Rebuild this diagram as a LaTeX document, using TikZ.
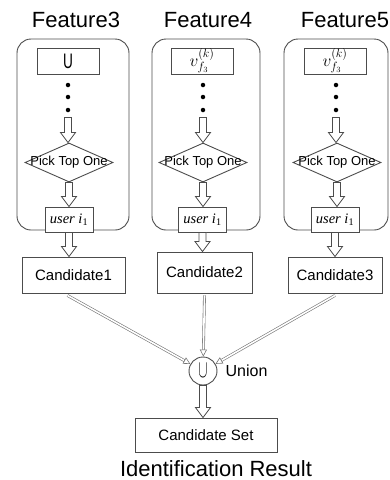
\documentclass[tikz,border=0pt]{standalone}
\usepackage{fontspec}
\setmainfont{Liberation Sans}
\newfontfamily\tmsfont{Liberation Serif}
\usetikzlibrary{arrows.meta,shapes.geometric,positioning,calc}

\begin{document}
\begin{tikzpicture}[x=1pt, y=-1pt,
    grp/.style={draw=black!70, line width=0.9pt, rounded corners=14pt, minimum height=191pt, inner sep=0pt},
    box/.style={draw=black!70, line width=0.9pt, fill=white, inner sep=0pt},
    dec/.style={draw=black!70, line width=0.9pt, diamond, aspect=2.26, minimum width=88pt, minimum height=39pt, inner sep=0pt,
        label={[font=\fontsize{13}{13}\selectfont]center:Pick Top One}},
    dot/.style={circle, fill=black, minimum size=4.5pt, inner sep=0pt},
    usr/.style={box, minimum width=48pt, minimum height=25pt, font=\tmsfont\itshape\fontsize{14.5}{16}\selectfont},
    top/.style={box, minimum width=62pt, minimum height=26pt},
    cand/.style={box, minimum height=36pt, font=\fontsize{15}{18}\selectfont},
    ttl/.style={font=\fontsize{22}{26}\selectfont},
    blk/.style={draw=black!70, fill=white, line width=0.8pt, to path={let \p1=(\tikztostart), \p2=(\tikztotarget) in
        (\x1-3.5pt,\y1) -- (\x1-3.5pt,\y2+10pt) -- (\x1-7.5pt,\y2+10pt) -- (\x1,\y2) -- (\x1+7.5pt,\y2+10pt) -- (\x1+3.5pt,\y2+10pt) -- (\x1+3.5pt,\y1) -- cycle}},
    cnx/.style={draw=black!55, double=white, double distance=1.6pt, line width=0.6pt, -{Triangle[open, length=7pt, width=7pt]}}
]
\useasboundingbox (0,0) rectangle (389,480);

% feature columns
\node[ttl] (f1) at (76,20) {Feature3};
\node[ttl] (f2) at (208,20) {Feature4};
\node[ttl] (f3) at (345,20) {Feature5};

\node[grp, minimum width=112pt] (g1) at (73,134.5) {};
\node[grp, minimum width=108pt] (g2) at (206,134.5) {};
\node[grp, minimum width=104pt] (g3) at (336,134.5) {};

\node[top] (t1) at (68,61) {\scalebox{0.65}[1]{\fontsize{21}{21}\selectfont U}};
\node[top] (t2) at (202,61) {\fontsize{17}{17}\selectfont$v_{f_3}^{(k)}$};
\node[top] (t3) at (335,61) {\fontsize{17}{17}\selectfont$v_{f_3}^{(k)}$};

\node[dot] (a1) at (68,85) {};
\node[dot] (b1) at (68,97) {};
\node[dot] (c1) at (68,110) {};
\node[dot] (a2) at (203,85) {};
\node[dot] (b2) at (203,97) {};
\node[dot] (c2) at (203,110) {};
\node[dot] (a3) at (336,85) {};
\node[dot] (b3) at (336,97) {};
\node[dot] (c3) at (336,110) {};

\node[dec] (d1) at (69,162.5) {};
\node[dec] (d2) at (203,162.5) {};
\node[dec] (d3) at (337,162.5) {};

\node[usr] (u1) at (69,219.5) {user i\textsubscript{\upshape 1}};
\node[usr] (u2) at (202.5,219.5) {user i\textsubscript{\upshape 1}};
\node[usr] (u3) at (335,219.5) {user i\textsubscript{\upshape 1}};

\node[cand, minimum width=103pt] (k1) at (73.5,275) {Candidate1};
\node[cand, minimum width=95pt, minimum height=41pt] (k2) at (204.5,272.5) {Candidate2};
\node[cand, minimum width=94pt] (k3) at (335,275) {Candidate3};

\draw[blk] ([yshift=-5pt]c1.south) to (d1.north);
\draw[blk] ([yshift=-5pt]c2.south) to (d2.north);
\draw[blk] ([yshift=-5pt]c3.south) to (d3.north);
\draw[blk] (d1.south) to (u1.north);
\draw[blk] (d2.south) to (u2.north);
\draw[blk] (d3.south) to (u3.north);
\draw[blk] (u1.south) to (k1.north);
\draw[blk] (u2.south) to (k2.north);
\draw[blk] (u3.south) to (k3.north);

% union
\node[circle, draw=black!70, line width=0.9pt, minimum size=28pt, inner sep=0pt] (un) at (203,371)
    {\scalebox{0.55}[1]{\fontsize{31}{31}\selectfont$\cup$}};
\node[font=\fontsize{16}{18}\selectfont, inner sep=0pt, right=8pt of un] (unl) {Union};

\draw[cnx] ([xshift=-6pt,yshift=-2pt]k1.south) -- (un);
\draw[cnx] ([yshift=-2pt]k2.south) -- (un);
\draw[cnx] ([yshift=-2pt]k3.south) -- (un);

\node[cand, minimum width=142pt, minimum height=34pt] (cs) at (206,435) {Candidate Set};
\draw[blk] (un.south) to (cs.north);

\node[ttl] (res) at (216,469) {Identification Result};
\end{tikzpicture}
\end{document}
